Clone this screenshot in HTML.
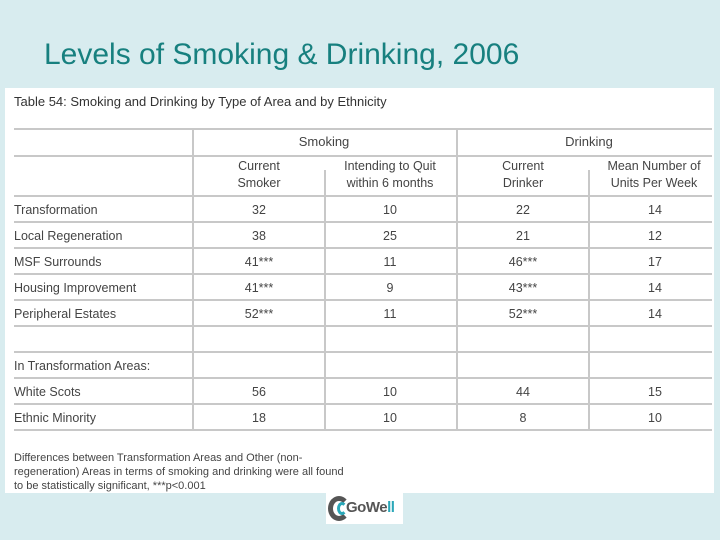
<!DOCTYPE html>
<html><head><meta charset="utf-8"><style>
body{margin:0;width:720px;height:540px;background:#d8ecef;position:relative;overflow:hidden;font-family:"Liberation Sans",sans-serif}
.t{position:absolute;white-space:nowrap}
#panel{position:absolute;left:5px;top:88px;width:709px;height:405px;background:#fff}
.h{position:absolute;height:2px;background:#c8c8c8;left:14px;width:698px}
.v{position:absolute;width:2px;background:#c8c8c8}
.c{position:absolute;font-size:12.5px;color:#444;text-align:center;transform:translateX(-50%);white-space:nowrap}
.l{position:absolute;font-size:12.5px;color:#444;left:14px;white-space:nowrap}
</style></head><body>
<div class="t" style="left:44px;top:38px;font-size:30px;color:#17807f">Levels of Smoking &amp; Drinking, 2006</div>
<div id="panel"></div>
<div class="t" style="left:14px;top:94px;font-size:13px;color:#333">Table 54: Smoking and Drinking by Type of Area and by Ethnicity</div>
<div id="grid"></div>
<div class="t" style="left:14px;top:451px;font-size:11px;color:#444;line-height:14px">Differences between Transformation Areas and Other (non-<br>regeneration) Areas in terms of smoking and drinking were all found<br>to be statistically significant, ***p&lt;0.001</div>
<div style="position:absolute;left:326px;top:493px;width:77px;height:31px;background:#fff">
<div style="position:absolute;left:2px;top:3px;width:22px;height:25px;border-radius:50%;border:5px solid #555;border-right-color:transparent;box-sizing:border-box"></div>
<div style="position:absolute;left:11px;top:9px;width:10px;height:13px;border-radius:50%;border:3px solid #2aa7b8;border-right-color:transparent;box-sizing:border-box"></div>
<span style="position:absolute;left:20px;top:6px;font-size:15px;font-weight:bold;color:#555;letter-spacing:-0.5px">GoWe<span style="color:#2aa7b8">ll</span></span>
</div>
<script>
const rows=["Transformation","Local Regeneration","MSF Surrounds","Housing Improvement","Peripheral Estates","","In Transformation Areas:","White Scots","Ethnic Minority"];
const smoker=["32","38","41***","41***","52***","","","56","18"];
const quit=["10","25","11","9","11","","","10","10"];
const drinker=["22","21","46***","43***","52***","","","44","8"];
const units=["14","12","17","14","14","","","15","10"];
const g=document.getElementById('grid');
function add(cls,style,text){const e=document.createElement('div');e.className=cls;e.style.cssText=style;if(text!==undefined)e.textContent=text;g.appendChild(e);return e;}
[128,155,195].forEach((y,i)=>{const e=add('h','top:'+y+'px');

});
const rowTop=195,rowH=26;
rows.forEach((r,i)=>{const e=add('h','top:'+Math.round(rowTop+(i+1)*rowH)+'px');

});
[[192,128],[456,128],[324,170],[588,170]].forEach(([x,t])=>{const e=add('v','left:'+x+'px;top:'+t+'px;height:'+(431-t)+'px');

});
const hs=[["Smoking",324,134],["Drinking",589,134]];
hs.forEach(h=>{const e=add('c','left:'+h[1]+'px;top:'+h[2]+'px;font-size:13px',h[0]);

});
const sub=[["Current<br>Smoker",259],["Intending to Quit<br>within 6 months",390],["Current<br>Drinker",523],["Mean Number of<br>Units Per Week",654]];
sub.forEach(s=>{const e=add('c','left:'+s[1]+'px;top:158px;line-height:17px;font-size:12.5px');e.innerHTML=s[0];

});
const cols=[[smoker,259],[quit,390],[drinker,523],[units,655]];
rows.forEach((r,i)=>{const y=rowTop+i*26+8;
if(r){const e=add('l','top:'+y+'px',r);

}
cols.forEach(([arr,x])=>{if(arr[i]){const e=add('c','left:'+x+'px;top:'+y+'px',arr[i]);

}});});
</script>
</body></html>
